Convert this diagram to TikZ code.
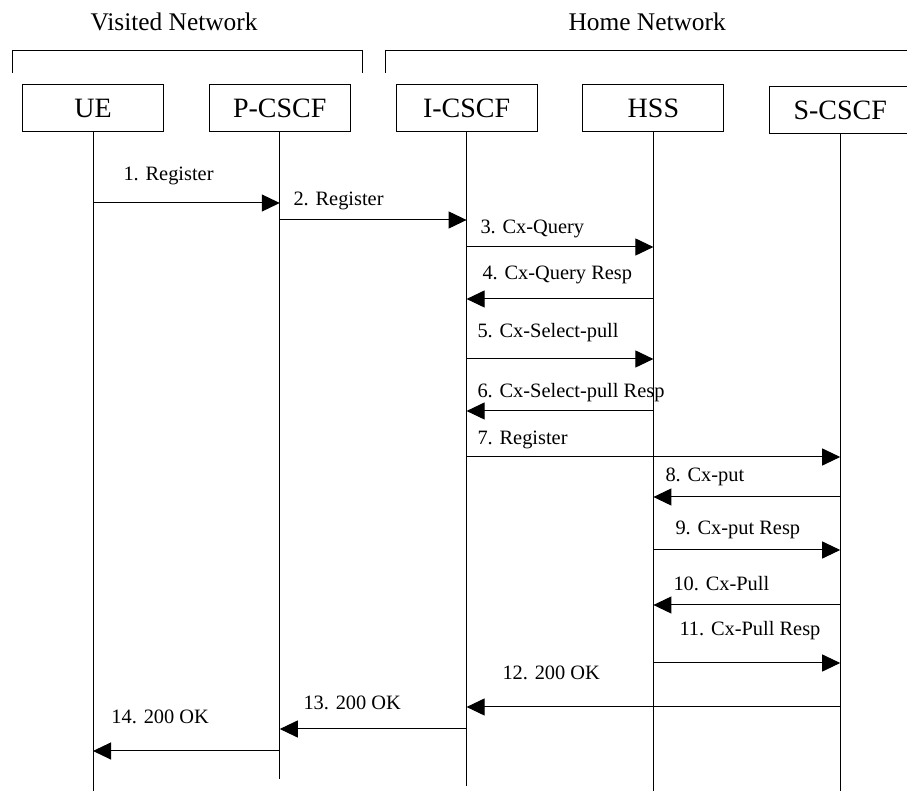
\documentclass[tikz,border=0pt]{standalone}
\usepackage{fontspec}
\setmainfont{Liberation Serif}
\usepackage{tikz}
\usetikzlibrary{arrows.meta}

\begin{document}
\begin{tikzpicture}[x=0.5pt, y=-0.5pt, line width=0.5pt,
  entity/.style={draw, rectangle, minimum width=70.5pt, minimum height=23.5pt, inner sep=0pt, font=\fontsize{14}{16}\selectfont},
  msg/.style={-{Triangle[length=9pt, width=8.5pt]}},
  lbl/.style={anchor=base west, inner sep=0pt, font=\fontsize{10.2}{12}\selectfont},
  netname/.style={anchor=base west, inner sep=0pt, font=\fontsize{12.7}{15}\selectfont}]

\useasboundingbox (0,0) rectangle (907,791);

\node [netname] (visited) at (90,31) {Visited Network};
\node [netname] (home) at (568,31) {Home Network};

\draw (12,73) |- (362,51) -- (362,73);
\draw (385,73) |- (930,51);

\node [entity] (ue) at (93,108.5) {UE};
\node [entity, right of=ue, node distance=93.4pt] (pcscf) {P-CSCF};
\node [entity, right of=pcscf, node distance=93.4pt] (icscf) {I-CSCF};
\node [entity, right of=icscf, node distance=93.4pt] (hss) {HSS};
\node [entity, right of=hss, node distance=93.4pt, yshift=-1pt] (scscf) {S-CSCF};

\draw (ue) -- (ue |- 0,791);
\draw (pcscf) -- (pcscf |- 0,779);
\draw (icscf) -- (icscf |- 0,786);
\draw (hss) -- (hss |- 0,791);
\draw (scscf) -- (scscf |- 0,791);

\node [lbl] (l1) at (123,181) {1. Register};
\draw [msg] (ue |- 0,203) -- (pcscf |- 0,203);

\node [lbl] (l2) at (293,206) {2. Register};
\draw [msg] (pcscf |- 0,220) -- (icscf |- 0,220);

\node [lbl] (l3) at (480,234) {3. Cx-Query};
\draw [msg] (icscf |- 0,247) -- (hss |- 0,247);

\node [lbl] (l4) at (482,280) {4. Cx-Query Resp};
\draw [msg] (hss |- 0,299) -- (icscf |- 0,299);

\node [lbl] (l5) at (477,338) {5. Cx-Select-pull};
\draw [msg] (icscf |- 0,359) -- (hss |- 0,359);

\node [lbl] (l6) at (477,398) {6. Cx-Select-pull Resp};
\draw [msg] (hss |- 0,411) -- (icscf |- 0,411);

\node [lbl] (l7) at (477,445) {7. Register};
\draw [msg] (icscf |- 0,457) -- (scscf |- 0,457);

\node [lbl] (l8) at (665,482) {8. Cx-put};
\draw [msg] (scscf |- 0,497) -- (hss |- 0,497);

\node [lbl] (l9) at (675,535) {9. Cx-put Resp};
\draw [msg] (hss |- 0,550) -- (scscf |- 0,550);

\node [lbl] (l10) at (673,591) {10. Cx-Pull};
\draw [msg] (scscf |- 0,605) -- (hss |- 0,605);

\node [lbl] (l11) at (679,636) {11. Cx-Pull Resp};
\draw [msg] (hss |- 0,663) -- (scscf |- 0,663);

\node [lbl] (l12) at (502,680) {12. 200 OK};
\draw [msg] (scscf |- 0,707) -- (icscf |- 0,707);

\node [lbl] (l13) at (303,710) {13. 200 OK};
\draw [msg] (icscf |- 0,729) -- (pcscf |- 0,729);

\node [lbl] (l14) at (111,724) {14. 200 OK};
\draw [msg] (pcscf |- 0,751) -- (ue |- 0,751);

\end{tikzpicture}
\end{document}
